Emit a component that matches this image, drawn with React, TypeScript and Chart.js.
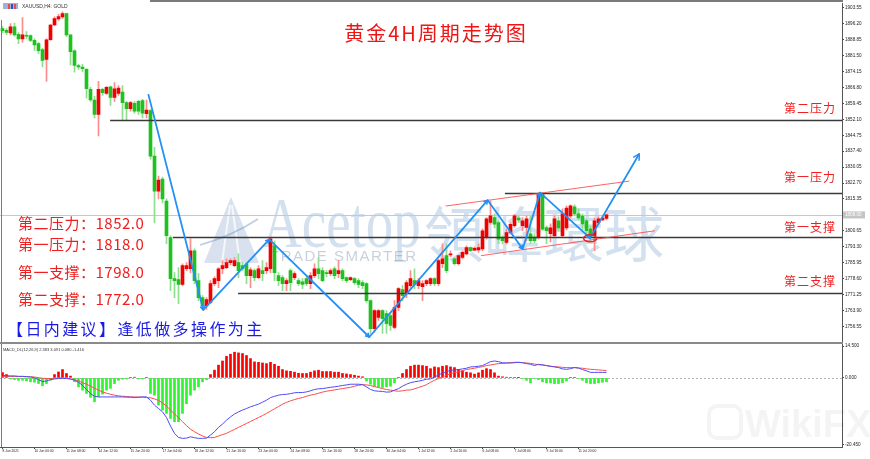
import React, { useEffect, useRef } from 'react';
import { Chart, registerables } from 'chart.js';

Chart.register(...registerables);

// ---------- data ----------
const TIME_LABELS = ['8 Jun 2021', '10 Jun 00:00', '11 Jun 08:00', '14 Jun 12:00', '15 Jun 20:00', '17 Jun 04:00', '18 Jun 12:00', '21 Jun 16:00', '23 Jun 00:00', '24 Jun 08:00', '25 Jun 16:00', '28 Jun 20:00', '30 Jun 04:00', '1 Jul 12:00', '2 Jul 20:00', '6 Jul 08:00', '7 Jul 08:00', '9 Jul 16:00', '11 Jul 20:00'];
const BARS_PER_LABEL = 8;

const OPEN = [
  1893.9, 1893.1, 1891.9, 1894.7, 1891.3, 1889.2, 1890.8, 1890.7, 1888.5, 1887.0,
  1884.3, 1879.7, 1888.8, 1895.6, 1898.4, 1899.3, 1900.8, 1891.0, 1883.7, 1876.9,
  1876.2, 1875.1, 1865.9, 1861.0, 1854.3, 1865.9, 1864.0, 1867.1, 1862.2, 1864.0,
  1864.6, 1859.8, 1857.0, 1859.5, 1860.4, 1860.7, 1854.7, 1856.1, 1835.1, 1819.0,
  1824.5, 1814.4, 1797.6, 1778.6, 1778.2, 1775.9, 1783.2, 1783.2, 1791.5, 1777.7,
  1769.9, 1766.2, 1767.6, 1776.3, 1777.7, 1783.2, 1783.7, 1786.0, 1784.6, 1786.0,
  1784.6, 1785.5, 1780.0, 1782.3, 1779.1, 1782.3, 1782.3, 1783.2, 1793.8, 1780.0,
  1779.1, 1776.3, 1782.3, 1779.1, 1777.7, 1777.2, 1778.6, 1776.3, 1780.0, 1783.2,
  1782.3, 1781.4, 1780.9, 1783.2, 1780.9, 1782.3, 1779.1, 1778.2, 1778.6, 1777.7,
  1776.8, 1776.3, 1768.5, 1755.6, 1760.7, 1763.9, 1762.5, 1761.6, 1756.1, 1765.3,
  1773.6, 1771.7, 1775.4, 1777.7, 1775.4, 1774.9, 1776.3, 1776.3, 1778.6, 1776.3,
  1785.5, 1789.2, 1789.6, 1787.8, 1785.5, 1788.4, 1790.0, 1792.9, 1791.7, 1791.9,
  1792.3, 1797.6, 1804.5, 1806.8, 1804.5, 1797.6, 1795.3, 1799.9, 1803.0, 1806.6,
  1803.0, 1802.2, 1799.3, 1797.6, 1797.6, 1817.5, 1802.2, 1799.3, 1798.4, 1805.3,
  1798.4, 1802.0, 1807.5, 1811.7, 1808.5, 1807.5, 1805.3, 1801.6, 1798.4, 1804.3,
  1805.7, 1806.4,
];
const HIGH = [
  1894.8, 1893.9, 1896.2, 1896.5, 1892.1, 1899.0, 1892.5, 1891.0, 1889.2, 1887.6,
  1884.8, 1889.2, 1895.9, 1899.3, 1900.5, 1901.7, 1901.1, 1891.1, 1884.3, 1877.4,
  1877.4, 1875.5, 1866.8, 1862.7, 1869.6, 1866.5, 1867.3, 1867.4, 1869.0, 1867.7,
  1867.7, 1860.4, 1860.4, 1860.4, 1860.8, 1861.3, 1861.0, 1856.7, 1839.2, 1825.9,
  1825.5, 1815.4, 1798.4, 1781.4, 1783.7, 1785.5, 1786.0, 1797.0, 1792.4, 1780.9,
  1770.8, 1769.9, 1777.7, 1779.5, 1783.7, 1786.9, 1787.8, 1787.8, 1788.3, 1790.1,
  1786.0, 1785.9, 1783.7, 1783.2, 1784.6, 1786.9, 1786.0, 1797.4, 1796.1, 1781.4,
  1780.0, 1778.6, 1783.2, 1781.8, 1778.6, 1778.6, 1779.5, 1781.4, 1785.5, 1788.3,
  1783.7, 1782.3, 1783.2, 1784.1, 1786.9, 1783.2, 1779.5, 1779.5, 1779.1, 1778.6,
  1777.7, 1776.8, 1768.9, 1764.4, 1764.4, 1764.3, 1763.9, 1763.0, 1768.5, 1774.5,
  1775.4, 1777.7, 1782.3, 1783.2, 1778.6, 1777.7, 1778.2, 1779.1, 1779.1, 1787.8,
  1794.7, 1794.7, 1791.5, 1788.3, 1789.5, 1791.5, 1793.8, 1793.3, 1793.3, 1794.7,
  1801.6, 1806.8, 1814.4, 1808.5, 1805.3, 1798.4, 1801.4, 1804.3, 1808.3, 1807.5,
  1806.8, 1807.5, 1807.5, 1799.3, 1818.2, 1818.2, 1803.0, 1803.9, 1807.5, 1807.1,
  1810.8, 1812.2, 1812.6, 1812.6, 1810.8, 1808.5, 1806.2, 1803.0, 1806.6, 1807.1,
  1807.1, 1808.5,
];
const LOW = [
  1892.1, 1891.1, 1891.0, 1890.4, 1887.0, 1887.6, 1889.2, 1887.9, 1883.9, 1882.4,
  1876.3, 1869.6, 1888.5, 1895.3, 1897.7, 1898.6, 1890.2, 1877.2, 1873.8, 1875.1,
  1874.1, 1861.9, 1860.4, 1852.7, 1844.4, 1863.1, 1863.6, 1858.5, 1860.4, 1863.1,
  1851.8, 1851.8, 1855.8, 1854.9, 1854.4, 1852.7, 1852.7, 1833.7, 1804.3, 1815.4,
  1813.5, 1794.7, 1773.1, 1769.9, 1767.1, 1775.4, 1782.3, 1781.4, 1776.3, 1768.5,
  1764.4, 1764.4, 1767.1, 1775.4, 1774.5, 1780.9, 1783.2, 1785.0, 1784.1, 1779.1,
  1782.3, 1776.3, 1774.5, 1777.7, 1778.6, 1777.7, 1780.9, 1781.4, 1777.7, 1775.4,
  1773.1, 1773.1, 1773.1, 1778.2, 1775.4, 1774.0, 1775.4, 1774.0, 1779.1, 1778.6,
  1777.2, 1779.5, 1780.0, 1778.6, 1779.1, 1777.7, 1776.8, 1777.7, 1775.9, 1774.5,
  1774.0, 1767.6, 1753.4, 1753.8, 1759.3, 1753.4, 1753.4, 1754.7, 1755.6, 1763.9,
  1768.5, 1769.9, 1774.0, 1774.0, 1774.0, 1768.5, 1775.4, 1775.4, 1775.4, 1775.4,
  1783.7, 1781.4, 1788.7, 1785.0, 1785.0, 1787.8, 1789.6, 1791.0, 1791.5, 1790.7,
  1791.5, 1796.8, 1803.7, 1802.0, 1794.8, 1794.6, 1794.6, 1799.3, 1802.2, 1804.5,
  1800.7, 1796.1, 1794.8, 1795.2, 1796.8, 1800.7, 1794.7, 1795.6, 1797.9, 1800.7,
  1797.9, 1801.1, 1806.6, 1807.5, 1805.7, 1800.7, 1799.3, 1796.1, 1791.5, 1803.4,
  1805.3, 1805.7,
];
const CLOSE = [
  1893.0, 1892.2, 1894.7, 1891.0, 1889.2, 1891.0, 1890.4, 1888.5, 1886.4, 1883.7,
  1879.3, 1888.8, 1895.6, 1898.5, 1899.5, 1900.8, 1891.0, 1883.3, 1876.9, 1876.3,
  1875.4, 1866.2, 1861.0, 1854.3, 1865.9, 1864.4, 1866.8, 1862.2, 1866.2, 1866.5,
  1859.8, 1857.0, 1859.8, 1855.8, 1855.8, 1854.9, 1856.4, 1835.1, 1819.0, 1824.1,
  1815.4, 1798.4, 1778.6, 1777.7, 1775.9, 1784.6, 1784.6, 1791.5, 1777.7, 1769.9,
  1766.2, 1769.0, 1776.3, 1778.6, 1783.2, 1784.6, 1786.0, 1786.9, 1786.9, 1782.3,
  1783.2, 1780.0, 1782.7, 1779.1, 1783.2, 1780.9, 1783.7, 1797.0, 1781.4, 1777.7,
  1776.3, 1777.7, 1776.8, 1780.9, 1776.3, 1775.9, 1776.3, 1780.0, 1783.2, 1780.9,
  1777.7, 1780.9, 1782.3, 1780.0, 1782.3, 1778.6, 1777.7, 1779.1, 1776.8, 1775.9,
  1775.4, 1768.5, 1755.6, 1763.9, 1763.9, 1760.2, 1757.9, 1757.0, 1765.3, 1774.0,
  1770.8, 1776.8, 1778.6, 1775.9, 1777.7, 1776.3, 1777.7, 1778.6, 1776.3, 1786.9,
  1787.8, 1782.3, 1790.1, 1785.5, 1789.2, 1790.7, 1793.0, 1791.5, 1792.6, 1793.0,
  1800.7, 1806.2, 1807.6, 1803.7, 1796.8, 1796.1, 1799.9, 1803.7, 1807.6, 1805.7,
  1805.3, 1806.2, 1796.1, 1796.1, 1817.5, 1801.4, 1800.7, 1802.0, 1806.2, 1802.0,
  1808.5, 1811.2, 1812.2, 1808.5, 1806.6, 1803.9, 1800.7, 1797.9, 1805.3, 1806.2,
  1806.6, 1808.0,
];

const MACD_HIST = [
  2.4, 1.5, -0.5, -0.8, -1.1, -1.1, -1.4, -1.8, -2.0, -2.6,
  -3.6, -2.6, -1.1, 1.5, 2.7, 3.8, 2.0, 0.8, -1.8, -4.1,
  -5.6, -7.1, -8.9, -10.9, -8.6, -7.4, -5.6, -4.8, -2.6, -1.1,
  -0.6, -0.5, 0.2, 0.3, -0.5, -0.5, 0.2, -7.1, -7.9, -12.4,
  -14.7, -16.2, -18.5, -20.0, -20.0, -16.2, -11.8, -7.9, -5.6, -4.1,
  -1.8, -0.8, 1.5, 3.5, 5.8, 7.7, 9.8, 10.8, 11.7, 11.4,
  11.1, 10.2, 8.8, 7.3, 7.1, 6.8, 6.5, 7.1, 6.2, 5.3,
  3.8, 3.2, 3.0, 2.6, 2.1, 2.0, 2.0, 2.6, 3.2, 3.5,
  2.9, 2.9, 2.9, 2.6, 2.6, 2.0, 1.8, 1.5, 1.2, 0.8,
  0.5, -1.4, -2.9, -3.8, -4.1, -4.4, -4.1, -3.8, -2.3, 0.2,
  2.0, 3.8, 5.3, 5.8, 5.8, 5.6, 5.3, 4.2, 5.0, 4.7,
  5.3, 5.6, 5.0, 4.7, 3.8, 3.2, 2.6, 2.3, 1.7, 2.3,
  3.5, 4.2, 3.8, 2.3, 0.8, 0.5, 0.3, 0.2, 0.2, 0.1,
  -0.3, -1.1, -2.3, -0.3, -0.8, -1.8, -2.3, -2.3, -2.6, -2.6,
  -2.3, -1.4, 0.2, 0.2, -0.2, -1.1, -2.3, -2.6, -2.6, -2.3,
  -2.0, -1.8,
];
const MACD_MAIN = [
  1.2, 1.0, 0.9, 0.9, 0.7, 0.7, 0.6, 0.4, 0.0, -0.8,
  -1.7, -1.4, -0.8, -0.5, -0.3, -0.2, -0.3, -0.5, -1.1, -2.0,
  -3.4, -5.3, -7.2, -8.4, -8.7, -8.7, -8.7, -8.7, -8.7, -8.7,
  -8.7, -8.8, -8.8, -9.0, -8.8, -8.7, -8.7, -10.2, -12.5, -14.0,
  -15.5, -18.1, -22.0, -25.3, -27.2, -27.6, -27.5, -26.9, -27.3, -27.6,
  -27.6, -27.5, -26.1, -24.6, -22.6, -21.1, -19.3, -17.8, -16.5, -15.5,
  -14.7, -14.0, -13.2, -12.6, -12.0, -11.1, -10.2, -9.0, -8.4, -7.9,
  -7.6, -7.5, -7.2, -6.8, -6.7, -6.7, -6.4, -5.9, -5.3, -5.0,
  -4.9, -4.6, -4.3, -4.1, -3.8, -3.5, -3.2, -2.9, -2.9, -2.9,
  -3.1, -4.1, -5.3, -5.9, -6.1, -6.2, -6.5, -6.4, -5.6, -4.9,
  -3.8, -2.9, -2.2, -1.8, -1.5, -1.1, -0.6, -0.5, 0.4, 1.3,
  2.2, 2.8, 3.5, 3.6, 3.8, 4.1, 4.4, 5.0, 5.1, 5.3,
  5.6, 6.5, 7.4, 7.7, 7.4, 6.9, 6.8, 6.8, 6.9, 7.1,
  6.9, 6.5, 6.2, 5.6, 6.2, 5.9, 5.6, 5.3, 5.0, 4.7,
  4.1, 3.9, 4.2, 4.7, 4.5, 3.8, 3.2, 2.5, 2.5, 2.5,
  2.5, 2.5,
];
const MACD_SIGNAL = [
  0.6, 0.6, 0.6, 0.6, 0.6, 0.6, 0.5, 0.5, 0.4, 0.1,
  -0.2, -0.3, -0.3, -0.2, 0.0, 0.0, -0.2, -0.5, -0.8, -1.4,
  -2.2, -2.9, -3.8, -4.7, -5.6, -6.4, -7.0, -7.5, -7.9, -8.2,
  -8.4, -8.5, -8.7, -8.7, -8.8, -8.8, -9.0, -9.1, -9.6, -10.3,
  -11.4, -12.9, -14.7, -16.5, -18.2, -20.0, -21.8, -23.4, -24.6, -25.6,
  -26.5, -27.2, -27.3, -27.2, -26.5, -25.9, -25.3, -24.4, -23.5, -22.6,
  -21.7, -20.8, -19.9, -19.0, -18.1, -17.2, -16.2, -15.2, -14.1, -13.1,
  -12.0, -11.2, -10.5, -9.9, -9.4, -9.0, -8.4, -7.9, -7.5, -7.0,
  -6.5, -6.1, -5.8, -5.5, -5.2, -4.9, -4.6, -4.3, -3.8, -3.4,
  -3.1, -3.2, -3.5, -4.0, -4.4, -4.9, -5.3, -5.6, -5.9, -6.1,
  -5.9, -5.6, -5.5, -5.0, -4.4, -3.8, -3.1, -2.0, -1.1, -0.3,
  0.4, 1.2, 1.9, 2.4, 2.8, 3.3, 3.8, 4.1, 4.4, 4.8,
  5.1, 5.6, 5.9, 6.2, 6.5, 6.6, 6.8, 6.9, 7.1, 7.1,
  6.9, 6.8, 6.6, 6.3, 6.0, 5.9, 5.6, 5.3, 5.1, 5.0,
  4.8, 4.7, 4.7, 4.7, 4.5, 4.4, 4.1, 3.9, 3.8, 3.6,
  3.5, 3.3,
];

const PRICE_TICKS = [1903.55, 1896.20, 1888.85, 1881.50, 1874.15, 1866.80, 1859.45, 1852.10, 1844.75, 1837.40, 1830.05, 1822.70, 1815.35, 1808.00, 1800.65, 1793.30, 1785.95, 1778.60, 1771.25, 1763.90, 1756.55];
const PRICE_MIN = 1748.98;
const PRICE_MAX = 1905.38;
const MACD_TICKS = [14.5, 0, -30.6];
const MACD_TICK_LABELS = ['14.500', '0.000', '-20.450'];
const MACD_MIN = -31.55;
const MACD_MAX = 15.95;
const LAST_PRICE = 1808.0;

const LEVEL_NAMES = ['第二压力', '第一压力', '第一支撑', '第二支撑'];
const LEVEL_VALUES = [1852.0, 1818.0, 1798.0, 1772.0];
const LEVEL_START_BAR = [26.9, 125.6, 42.6, 58.9];

const ZIGZAG_BAR = [36.45, 50.2, 66.7, 91.7, 121.3, 130.05, 134.4, 146.9, 159.2];
const ZIGZAG_PRICE = [1863.7, 1764.2, 1796.7, 1751.7, 1814.8, 1792.3, 1818.3, 1797.3, 1836.2];
const CHANNEL_UPPER_BAR = [110.8, 156.7];
const CHANNEL_UPPER_PRICE = [1812.1, 1823.6];
const CHANNEL_LOWER_BAR = [119.6, 163.1];
const CHANNEL_LOWER_PRICE = [1789.2, 1800.7];
const MARK_BAR = 146.9;
const MARK_PRICE = 1797.2;

const TITLE = '黄金4H周期走势图';
const ADVICE = '【日内建议】逢低做多操作为主';
const SYMBOL_LABEL = 'XAUUSD,H4: GOLD';
const MACD_LABEL = 'MACD_DL(12,26,9) 2.383 3.091 0.080 -1.416';

// ---------- styles ----------
const UP_BODY = '#f20000';
const DOWN_BODY = '#1ec21e';
const UP_WICK = '#ff8c8c';
const DOWN_WICK = '#8ddf8d';
const HIST_UP = '#ff0000';
const HIST_DOWN = '#2ef52e';
const CJK = '"Noto Sans CJK SC"';

function seg(ctx: any, x0: number, y0: number, x1: number, y1: number) {
  ctx.beginPath();
  ctx.moveTo(x0, y0);
  ctx.lineTo(x1, y1);
  ctx.stroke();
}

function arrowHead(ctx: any, x0: number, y0: number, x1: number, y1: number, size: number) {
  const a = Math.atan2(y1 - y0, x1 - x0);
  ctx.beginPath();
  ctx.moveTo(x1 - size * Math.cos(a - 0.5), y1 - size * Math.sin(a - 0.5));
  ctx.lineTo(x1, y1);
  ctx.lineTo(x1 - size * Math.cos(a + 0.5), y1 - size * Math.sin(a + 0.5));
  ctx.stroke();
}

const overlayPlugin = {
  id: 'overlay',
  beforeDatasetsDraw(chart: any) {
    const { ctx, chartArea, scales } = chart;
    const ys = scales.y;
    const ym = scales.yM;
    ctx.save();
    // watermark logo
    ctx.fillStyle = 'rgba(125,155,195,0.30)';
    ctx.beginPath();
    ctx.moveTo(231, 197);
    ctx.lineTo(259, 263);
    ctx.lineTo(204, 263);
    ctx.closePath();
    ctx.fill();
    ctx.strokeStyle = 'rgba(255,255,255,0.75)';
    ctx.lineWidth = 2;
    seg(ctx, 230, 205, 222, 263);
    seg(ctx, 232, 205, 240, 263);
    ctx.strokeStyle = 'rgba(120,155,200,0.5)';
    ctx.lineWidth = 1.5;
    ctx.beginPath();
    ctx.moveTo(200, 245);
    ctx.quadraticCurveTo(232, 236, 258, 219);
    ctx.stroke();
    // watermark text
    ctx.fillStyle = 'rgba(115,160,205,0.32)';
    ctx.font = '55px "Liberation Serif"';
    ctx.textBaseline = 'alphabetic';
    ctx.save();
    ctx.translate(262, 247);
    ctx.scale(1, 1.3);
    ctx.fillText('Acetop', 0, 0);
    ctx.restore();
    ctx.font = '60px "Noto Sans CJK TC"';
    ctx.textBaseline = 'middle';
    ctx.fillText('領峰環球', 424, 234);
    ctx.fillStyle = 'rgba(125,145,170,0.42)';
    ctx.font = '15px "Liberation Sans"';
    ctx.letterSpacing = '1.5px';
    ctx.fillText('TRADE SMARTER', 270, 257);
    ctx.letterSpacing = '0px';

    // current price line
    const yp = Math.round(ys.getPixelForValue(LAST_PRICE)) + 0.5;
    ctx.strokeStyle = '#c8c8c8';
    ctx.lineWidth = 1;
    seg(ctx, chartArea.left, yp, chartArea.right, yp);
    // MACD zero line
    const y0 = Math.round(ym.getPixelForValue(0)) + 0.5;
    ctx.strokeStyle = '#b4b4b4';
    ctx.setLineDash([2, 2]);
    seg(ctx, chartArea.left, y0, chartArea.right, y0);
    ctx.setLineDash([]);
    ctx.restore();
  },
  afterDatasetsDraw(chart: any) {
    const { ctx, chartArea, scales } = chart;
    const xs = scales.x;
    const ys = scales.y;
    const right = chartArea.right;
    const X = (b: number) => xs.getPixelForValue(b);
    const Y = (p: number) => ys.getPixelForValue(p);
    ctx.save();

    // support / resistance lines
    ctx.strokeStyle = '#3a3a3a';
    ctx.lineWidth = 1.3;
    LEVEL_VALUES.forEach((v, k) => {
      const y = Math.round(Y(v)) + 0.5;
      seg(ctx, X(LEVEL_START_BAR[k]), y, right, y);
    });

    // channel lines
    ctx.strokeStyle = 'rgba(255,70,70,0.85)';
    ctx.lineWidth = 1;
    seg(ctx, X(CHANNEL_UPPER_BAR[0]), Y(CHANNEL_UPPER_PRICE[0]), X(CHANNEL_UPPER_BAR[1]), Y(CHANNEL_UPPER_PRICE[1]));
    seg(ctx, X(CHANNEL_LOWER_BAR[0]), Y(CHANNEL_LOWER_PRICE[0]), X(CHANNEL_LOWER_BAR[1]), Y(CHANNEL_LOWER_PRICE[1]));

    // zigzag
    ctx.strokeStyle = '#2290f5';
    ctx.lineWidth = 1.8;
    ctx.lineJoin = 'round';
    ctx.beginPath();
    ZIGZAG_BAR.forEach((b, k) => {
      const px = X(b);
      const py = Y(ZIGZAG_PRICE[k]);
      if (k === 0) ctx.moveTo(px, py);
      else ctx.lineTo(px, py);
    });
    ctx.stroke();
    ctx.lineWidth = 1.5;
    for (let k = 1; k < ZIGZAG_BAR.length; k++) {
      const last = k === ZIGZAG_BAR.length - 1;
      arrowHead(ctx, X(ZIGZAG_BAR[k - 1]), Y(ZIGZAG_PRICE[k - 1]), X(ZIGZAG_BAR[k]), Y(ZIGZAG_PRICE[k]), last ? 7 : 4.5);
    }

    // mark ellipse
    ctx.strokeStyle = '#e02828';
    ctx.lineWidth = 1.5;
    ctx.beginPath();
    ctx.ellipse(X(MARK_BAR), Y(MARK_PRICE), 6.5, 3.5, 0, 0, Math.PI * 2);
    ctx.stroke();

    // right labels
    const rightOffsets = [11, 16, 9, 12];
    ctx.fillStyle = '#f01e1e';
    ctx.font = `12px ${CJK}`;
    ctx.textBaseline = 'middle';
    ctx.textAlign = 'left';
    ctx.letterSpacing = '1px';
    LEVEL_NAMES.forEach((name, k) => {
      ctx.fillText(name, right - 58, Y(LEVEL_VALUES[k]) - rightOffsets[k]);
    });

    // left summary
    const leftY = [223, 244.5, 272.5, 299];
    ctx.font = `15px ${CJK}`;
    ctx.letterSpacing = '0.5px';
    LEVEL_NAMES.forEach((name, k) => {
      ctx.fillText(`${name}：${LEVEL_VALUES[k].toFixed(1)}`, 18, leftY[k]);
    });

    // advice
    ctx.fillStyle = '#1a1ae6';
    ctx.font = `16px ${CJK}`;
    ctx.letterSpacing = '2.4px';
    ctx.fillText(ADVICE, 7, 329);

    // title
    ctx.fillStyle = '#f01414';
    ctx.font = `20px ${CJK}`;
    ctx.letterSpacing = '2px';
    ctx.textAlign = 'center';
    ctx.fillText(TITLE, 436, 33);
    ctx.letterSpacing = '0px';
    ctx.restore();
  },
  afterDraw(chart: any) {
    const { ctx, chartArea, scales } = chart;
    const ys = scales.y;
    const right = chartArea.right;
    ctx.save();
    // frame
    ctx.strokeStyle = '#7a7a7a';
    ctx.lineWidth = 2;
    seg(ctx, 150, 1, right + 1, 1);
    ctx.lineWidth = 1;
    seg(ctx, 1.5, 20, 1.5, chartArea.bottom);
    // pane separator
    const sep = scales.yM.top;
    ctx.strokeStyle = '#8a8a8a';
    ctx.lineWidth = 2;
    seg(ctx, 0, sep, right + 1, sep);

    // last price tag
    const yp = ys.getPixelForValue(LAST_PRICE);
    ctx.fillStyle = '#c4c4c4';
    ctx.fillRect(right + 1, yp - 3.5, 22, 7);
    ctx.fillStyle = '#ffffff';
    ctx.font = '4.6px "Liberation Sans"';
    ctx.textBaseline = 'middle';
    ctx.textAlign = 'left';
    ctx.fillText(LAST_PRICE.toFixed(2), right + 3, yp);

    // symbol label
    ctx.fillStyle = '#9db3dc';
    ctx.fillRect(3, 3, 15, 6);
    ctx.fillStyle = '#e05050';
    ctx.fillRect(8, 4, 2, 5);
    ctx.fillRect(14, 4, 2, 5);
    ctx.fillStyle = '#3050c0';
    ctx.fillRect(11, 4, 2, 5);
    ctx.fillStyle = '#333';
    ctx.font = '5px "Liberation Sans"';
    ctx.fillText(SYMBOL_LABEL, 22, 6.5);
    // MACD label
    ctx.font = '4px "Liberation Sans"';
    ctx.fillText(MACD_LABEL, 3, sep + 6.5);

    // WikiFX watermark
    ctx.strokeStyle = 'rgba(0,0,0,0.045)';
    ctx.lineWidth = 4;
    ctx.beginPath();
    ctx.roundRect(709, 406, 32, 32, 8);
    ctx.stroke();
    ctx.fillStyle = 'rgba(0,0,0,0.045)';
    ctx.font = 'bold 38px "Liberation Sans"';
    ctx.textBaseline = 'alphabetic';
    ctx.fillText('WikiFX', 745, 437);
    ctx.restore();
  },
};

const AXIS_FONT = '"Liberation Sans"';

export default function App() {
  const ref = useRef<HTMLCanvasElement>(null);
  useEffect(() => {
    const up = (i: number) => CLOSE[i] >= OPEN[i];
    const chart = new Chart(ref.current as HTMLCanvasElement, {
      type: 'bar',
      data: {
        datasets: [
          {
            type: 'line',
            label: 'MACD',
            data: MACD_MAIN.map((v, i) => ({ x: i, y: v })),
            borderColor: '#4a4aff',
            borderWidth: 1,
            pointRadius: 0,
            tension: 0,
            yAxisID: 'yM',
            order: 0,
          },
          {
            type: 'line',
            label: 'Signal',
            data: MACD_SIGNAL.map((v, i) => ({ x: i, y: v })),
            borderColor: '#ff4a4a',
            borderWidth: 1,
            pointRadius: 0,
            tension: 0,
            yAxisID: 'yM',
            order: 0,
          },
          {
            type: 'bar',
            label: 'body',
            data: OPEN.map((o, i) => ({ x: i, y: [o, CLOSE[i]] })),
            backgroundColor: (c: any) => (up(c.dataIndex) ? UP_BODY : DOWN_BODY),
            barThickness: 3,
            minBarLength: 1,
            grouped: false,
            yAxisID: 'y',
            order: 1,
          },
          {
            type: 'bar',
            label: 'wick',
            data: HIGH.map((h, i) => ({ x: i, y: [LOW[i], h] })),
            backgroundColor: (c: any) => (up(c.dataIndex) ? UP_WICK : DOWN_WICK),
            barThickness: 1,
            grouped: false,
            yAxisID: 'y',
            order: 2,
          },
          {
            type: 'bar',
            label: 'hist',
            data: MACD_HIST.map((v, i) => ({ x: i, y: v })),
            backgroundColor: (c: any) => (MACD_HIST[c.dataIndex] >= 0 ? HIST_UP : HIST_DOWN),
            barThickness: 2,
            grouped: false,
            yAxisID: 'yM',
            order: 3,
          },
        ] as any,
      },
      options: {
        animation: false,
        responsive: false,
        devicePixelRatio: 1,
        layout: { padding: { top: 2, left: 0, right: 0, bottom: 0 } },
        plugins: { legend: { display: false }, tooltip: { enabled: false } },
        scales: {
          x: {
            type: 'linear',
            min: -0.625,
            max: 209.875,
            offset: false,
            afterBuildTicks: (s: any) => {
              s.ticks = TIME_LABELS.map((_, k) => ({ value: k * BARS_PER_LABEL }));
            },
            afterFit: (s: any) => {
              s.height = 12;
            },
            grid: { drawOnChartArea: false, drawTicks: true, tickLength: 2, color: '#444', offset: false },
            border: { display: true, color: '#555', width: 1 },
            ticks: {
              autoSkip: false,
              maxRotation: 0,
              minRotation: 0,
              align: 'start',
              padding: 0.5,
              color: '#222',
              font: { size: 3.3, family: AXIS_FONT },
              callback: (v: any) => TIME_LABELS[Math.round(Number(v) / BARS_PER_LABEL)] ?? '',
            },
          },
          y: {
            type: 'linear',
            position: 'right',
            stack: 'pane',
            stackWeight: 340.5,
            min: PRICE_MIN,
            max: PRICE_MAX,
            afterBuildTicks: (s: any) => {
              s.ticks = PRICE_TICKS.map((v) => ({ value: v }));
            },
            afterFit: (s: any) => {
              s.width = 28;
            },
            grid: { drawOnChartArea: false, tickLength: 2, color: '#444' },
            border: { display: true, color: '#555', width: 1 },
            ticks: {
              autoSkip: false,
              padding: 1,
              color: '#222',
              font: { size: 4.6, family: AXIS_FONT },
              callback: (v: any) => Number(v).toFixed(2),
            },
          },
          yM: {
            type: 'linear',
            position: 'right',
            stack: 'pane',
            stackWeight: 104.5,
            min: MACD_MIN,
            max: MACD_MAX,
            afterBuildTicks: (s: any) => {
              s.ticks = MACD_TICKS.map((v) => ({ value: v }));
            },
            afterFit: (s: any) => {
              s.width = 28;
            },
            grid: { drawOnChartArea: false, tickLength: 2, color: '#444' },
            border: { display: true, color: '#555', width: 1 },
            ticks: {
              autoSkip: false,
              padding: 1,
              color: '#222',
              font: { size: 4.6, family: AXIS_FONT },
              callback: (_v: any, i: number) => MACD_TICK_LABELS[i],
            },
          },
        },
      } as any,
      plugins: [overlayPlugin],
    });
    return () => chart.destroy();
  }, []);
  return (
    <div style={{ position: 'fixed', left: 0, top: 0, width: 870, height: 459, background: '#ffffff' }}>
      <canvas ref={ref} width={870} height={459} style={{ display: 'block', width: 870, height: 459 }} />
    </div>
  );
}
